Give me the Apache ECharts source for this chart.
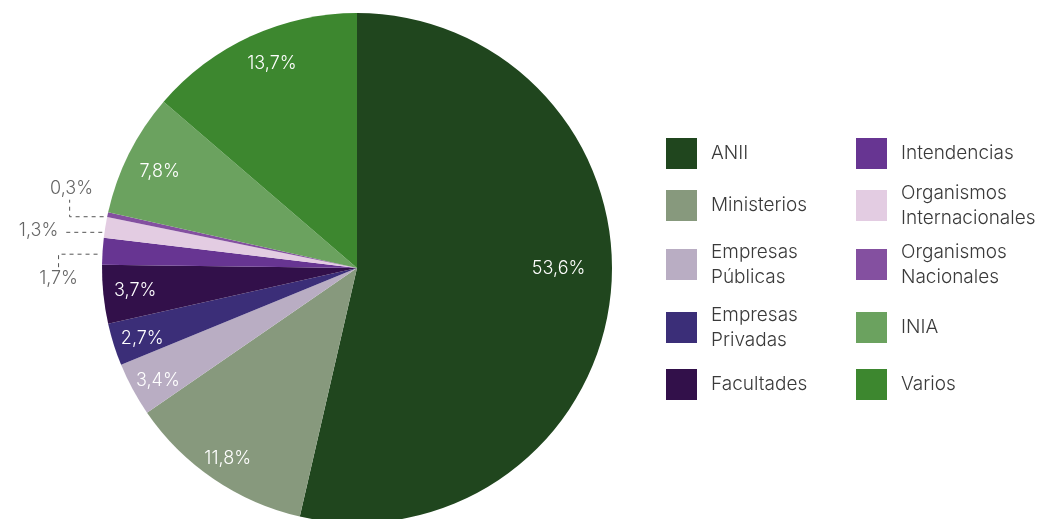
<!DOCTYPE html>
<html>
<head>
<meta charset="utf-8">
<script src="https://cdn.jsdelivr.net/npm/echarts@6/dist/echarts.min.js"></script>
<style>
html,body{margin:0;padding:0;background:#fff;}
#chart{width:1050px;height:519px;}
</style>
</head>
<body>
<div id="chart"></div>
<script>
const categories = ['ANII','Ministerios','Empresas Públicas','Empresas Privadas','Facultades','Intendencias','Organismos Internacionales','Organismos Nacionales','INIA','Varios'];
const values = [53.6, 11.8, 3.4, 2.7, 3.7, 1.7, 1.3, 0.3, 7.8, 13.7];
const colors = ['#20461e','#87997d','#b9adc3','#3b2e78','#32104a','#673592','#e3cce2','#8450a0','#6ba25f','#3d872f'];

const FONT = 'Inter';
const fmt = v => v.toFixed(1).replace('.', ',') + '%';
const isSmall = v => v < 2;

// label tweaks (px offsets) for inside labels
const insideOffsets = {0: [-20, -25], 9: [8, -2], 8: [2, 4], 1: [-4, 6], 2: [-3, 6], 3: [-2, 4]};

const chart = echarts.init(document.getElementById('chart'), null, {renderer: 'canvas'});

const mainData = categories.map((name, i) => ({
  name, value: values[i],
  itemStyle: {color: colors[i]},
  label: isSmall(values[i]) ? {show: true, position: 'outside'} : {show: false},
  labelLine: {show: isSmall(values[i])}
}));

const labelData = categories.map((name, i) => ({
  name, value: values[i],
  label: {show: !isSmall(values[i]), offset: insideOffsets[i] || [0, 0]}
}));

// legend layout: 2 columns x 5 rows
const rowIconTops = [138, 190, 249, 312, 369];
const colIconLeft = [666, 856];
const ICON = 31, LH = 25;
const legends = categories.map((name, i) => {
  const col = Math.floor(i / 5), row = i % 5;
  const multi = name.indexOf(' ') >= 0;
  const top = multi ? rowIconTops[row] + ICON / 2 - LH : rowIconTops[row];
  return {
    data: [name], orient: 'vertical', left: colIconLeft[col], top: top,
    padding: 0, itemWidth: ICON, itemHeight: ICON, icon: 'rect',
    selectedMode: false,
    formatter: n => n.replace(' ', '\n'),
    textStyle: {fontFamily: FONT, fontWeight: 300, fontSize: 19, color: '#3a3a3a', lineHeight: LH, padding: [0, 0, 0, 9]}
  };
});

// outside label geometry relative to slice edge point
const outsideLayout = {
  7: {start: [-4, 2], elbow: [-34, 0], end: [0, -17], label: [2, -11], align: 'center'},
  6: {start: [-3, 5], elbow: [-38, 0], end: null, label: [-6, -2], align: 'right'},
  5: {start: [-5, 3], elbow: [-39, 0], end: [0, 13], label: [0, 11], align: 'center'}
};

chart.setOption({
  backgroundColor: '#ffffff',
  animation: false,
  color: colors,
  legend: legends,
  series: [
    {
      type: 'pie',
      center: [357, 268],
      radius: [0, 255],
      startAngle: 90,
      clockwise: true,
      avoidLabelOverlap: false,
      data: mainData,
      label: {fontFamily: FONT, fontWeight: 300, fontSize: 18, color: '#666666', formatter: p => fmt(p.value)},
      labelLine: {lineStyle: {type: [4, 4], color: '#555555', width: 1}, length: 10, length2: 10},
      emphasis: {disabled: true},
      labelLayout: function (params) {
        const cfg = outsideLayout[params.dataIndex];
        if (!cfg || !params.labelLinePoints) return {};
        const e = params.labelLinePoints[0];
        const s = [e[0] + cfg.start[0], e[1] + cfg.start[1]];
        const b = [s[0] + cfg.elbow[0], s[1] + cfg.elbow[1]];
        const pts = [s, b];
        let tip = b;
        if (cfg.end) { tip = [b[0] + cfg.end[0], b[1] + cfg.end[1]]; pts.push(tip); }
        return {
          x: tip[0] + cfg.label[0], y: tip[1] + cfg.label[1],
          align: cfg.align, verticalAlign: 'middle',
          labelLinePoints: pts
        };
      }
    },
    {
      type: 'pie',
      center: [357, 268],
      radius: [185, 255],
      startAngle: 90,
      clockwise: true,
      silent: true,
      avoidLabelOverlap: false,
      itemStyle: {color: 'rgba(0,0,0,0)'},
      label: {position: 'inside', fontFamily: FONT, fontWeight: 300, fontSize: 18, color: '#ffffff', formatter: p => fmt(p.value)},
      labelLine: {show: false},
      emphasis: {disabled: true},
      data: labelData
    }
  ]
});
</script>
</body>
</html>
